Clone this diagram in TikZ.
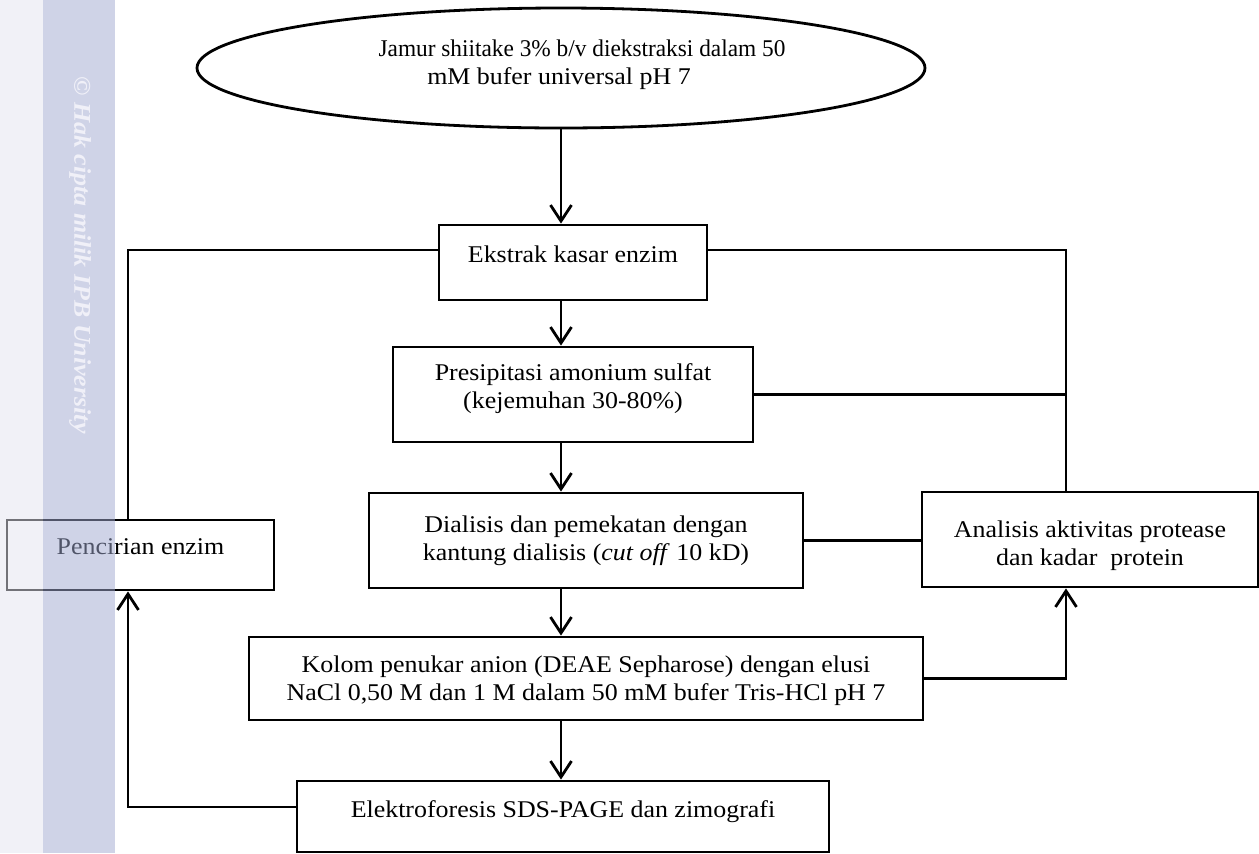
\documentclass[tikz,border=0pt]{standalone}
\usepackage{fontspec}
\setmainfont{Liberation Serif}[FakeStretch=1.08]
\usetikzlibrary{arrows.meta,shapes.geometric,calc}
\definecolor{bandA}{RGB}{160,169,209}
\definecolor{bandB}{RGB}{229,229,241}
\definecolor{wmark}{RGB}{240,240,248}
\begin{document}
\begin{tikzpicture}[x=0.5pt,y=-0.5pt,
  txt/.style={font=\fontsize{12pt}{14pt}\selectfont,align=center,inner sep=0pt},
  box/.style={draw,line width=1.4pt,rectangle,inner sep=0pt},
  conn/.style={line width=1.4pt},
  arr/.style={conn,-{Straight Barb[length=8pt,width=10.5pt]}}]
\useasboundingbox (0,0) rectangle (1259,853);
\fill[white] (0,0) rectangle (1259,853);
% nodes
\node[box,ellipse,minimum width=364pt,minimum height=60pt,
  label={[txt,name=ell-t,yshift=1.5pt,xshift=-1pt]center:{\hspace*{23pt}\scalebox{0.9}[1]{Jamur shiitake 3\% b/v diekstraksi dalam 50}\\mM bufer universal pH 7}}] (ell) at (561,68) {};
\node[box,minimum width=134pt,minimum height=37.5pt,
  label={[txt,name=ekstrak-t,yshift=4pt]center:{Ekstrak kasar enzim}}] (ekstrak) at (573,262.5) {};
\node[box,minimum width=180pt,minimum height=47.5pt,
  label={[txt,name=presip-t,yshift=3pt]center:{Presipitasi amonium sulfat\\(kejemuhan 30-80\%)}}] (presip) at (573,394.5) {};
\node[box,minimum width=217pt,minimum height=47.5pt,
  label={[txt,name=dial-t]center:{Dialisis dan pemekatan dengan\\kantung dialisis (\textit{cut off} 10 kD)}}] (dial) at (586,540.5) {};
\node[box,minimum width=337pt,minimum height=41.5pt,
  label={[txt,name=kolom-t,yshift=-1pt]center:{Kolom penukar anion (DEAE Sepharose) dengan elusi\\NaCl 0,50 M dan 1 M dalam 50 mM bufer Tris-HCl pH 7}}] (kolom) at (586,678.5) {};
\node[box,minimum width=266pt,minimum height=35.5pt,
  label={[txt,name=elek-t,yshift=2.5pt]center:{Elektroforesis SDS-PAGE dan zimografi}}] (elek) at (563,816.5) {};
\node[box,minimum width=168pt,minimum height=47.5pt,
  label={[txt,name=ana-t,yshift=-3pt]center:{Analisis aktivitas protease\\dan kadar\ \ protein}}] (ana) at (1090,539.5) {};
\node[box,minimum width=133.5pt,minimum height=35pt,
  label={[txt,name=pen-t,yshift=4pt]center:{Pencirian enzim}}] (pen) at (140.5,555) {};
% helper coordinates
\coordinate (sp) at (561,0);
\coordinate (lx) at (128,0);
\coordinate (rx) at (1066,0);
\coordinate (r1) at (0,250);
\coordinate (r5) at (0,807);
% connectors
\draw[arr] (ell.south) -- (sp |- ekstrak.north);
\draw[arr] (sp |- ekstrak.south) -- (sp |- presip.north);
\draw[arr] (sp |- presip.south) -- (sp |- dial.north);
\draw[arr] (sp |- dial.south) -- (sp |- kolom.north);
\draw[arr] (sp |- kolom.south) -- (sp |- elek.north);
\draw[conn] (ekstrak.west |- r1) -| (lx |- pen.north);
\draw[conn] (ekstrak.east |- r1) -| (rx |- ana.north);
\draw[conn] (presip.east) -- (rx |- presip.east);
\draw[conn] (dial.east) -- (ana.west |- dial.east);
\draw[arr] (kolom.east) -| (rx |- ana.south);
\draw[arr] (elek.west |- r5) -| (lx |- pen.south);
% watermark band
\fill[bandB,fill opacity=0.5] (0,0) rectangle (43,853);
\fill[bandA,fill opacity=0.5] (43,0) rectangle (115,853);
\node[wmark,rotate=-90,font=\fontsize{12pt}{14pt}\itshape\bfseries] (wm) at (80,255) {© Hak cipta milik IPB University};
\end{tikzpicture}
\end{document}
